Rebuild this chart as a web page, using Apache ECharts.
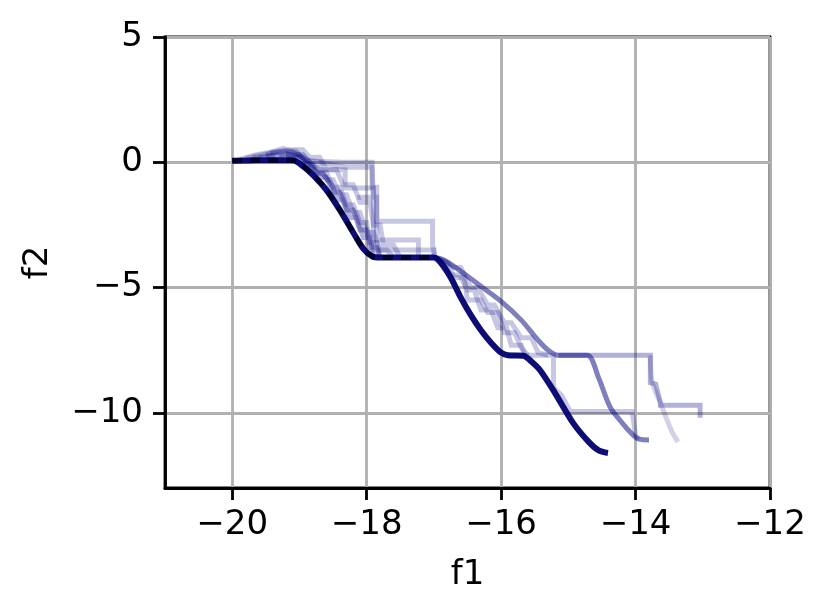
<!DOCTYPE html>
<html>
<head>
<meta charset="utf-8">
<script src="https://cdn.jsdelivr.net/npm/echarts@6/dist/echarts.min.js"></script>
<style>
  html, body { margin: 0; padding: 0; background: #fff; }
  #chart { width: 831px; height: 616px; }
</style>
</head>
<body>
<div id="chart"></div>
<script>
// tick values
const xTicks = [-20, -18, -16, -14, -12];
const yTicks = [-10, -5, 0, 5];

// main (dark) trajectory
const mainPath = [[-20.0, 0.06], [-19.6, 0.08], [-19.1, 0.08], [-18.95, -0.15], [-18.8, -0.5], [-18.6, -1.1],
  [-18.4, -1.9], [-18.2, -2.8], [-18.05, -3.45], [-17.92, -3.75], [-17.8, -3.8], [-17.0, -3.8],
  [-16.9, -4.0], [-16.75, -4.6], [-16.6, -5.4], [-16.45, -6.1], [-16.3, -6.7], [-16.15, -7.2],
  [-16.0, -7.6], [-15.9, -7.7], [-15.67, -7.72], [-15.55, -7.95], [-15.42, -8.3], [-15.2, -9.2],
  [-14.93, -10.4], [-14.7, -11.15], [-14.55, -11.5], [-14.41, -11.6]];

// upper second descent, ends on plateau then drops
const pathB = [[-17.0, -3.8], [-16.85, -3.9], [-16.6, -4.35], [-16.3, -4.95], [-16.0, -5.55], [-15.7, -6.3],
  [-15.45, -7.1], [-15.3, -7.5], [-15.15, -7.7], [-14.72, -7.7], [-14.55, -8.6], [-14.38, -9.76],
  [-14.2, -10.4], [-14.05, -10.85], [-13.95, -11.05], [-13.8, -11.08]];
const pathD = [[-15.15, -7.7], [-13.78, -7.7], [-13.78, -8.8], [-13.7, -8.85],
  [-13.63, -9.6], [-13.63, -9.7], [-13.04, -9.7], [-13.04, -10.2]];
const pathE = [[-13.78, -7.7], [-13.75, -8.8], [-13.63, -9.6], [-13.53, -10.3],
  [-13.45, -10.8], [-13.37, -11.16]];
const pathF = [[-15.9, -7.7], [-15.22, -7.7], [-15.22, -9.0], [-15.1, -9.3], [-14.97, -9.95],
  [-14.05, -9.95], [-14.0, -10.9], [-13.95, -11.05]];

// stepped light trajectories around the first descent
const step1 = [[-19.5, 0.25], [-19.0, 0.3], [-18.9, 0.05], [-18.35, 0.0], [-17.92, 0.0], [-17.92, -1.0],
  [-17.85, -1.0], [-17.85, -2.35], [-17.02, -2.35], [-17.02, -3.3], [-16.98, -3.8]];
const step2 = [[-19.7, 0.2], [-19.4, 0.2], [-19.4, 0.4], [-19.1, 0.4], [-18.9, 0.1], [-18.32, -0.2],
  [-17.92, -0.2], [-17.9, -1.4], [-18.14, -1.4], [-17.85, -1.4], [-17.85, -3.1], [-17.23, -3.1],
  [-17.23, -3.8]];
const step3 = [[-19.9, 0.1], [-19.66, 0.29], [-19.41, 0.41], [-19.24, 0.55], [-19.0, 0.3], [-18.85, 0.0],
  [-18.7, -0.3], [-18.32, -0.3], [-18.32, -1.03], [-17.9, -1.03], [-17.9, -3.5], [-17.0, -3.5], [-17.0, -3.8]];
const step4 = [[-19.6, 0.2], [-19.2, 0.35], [-19.0, 0.2], [-18.8, -0.2], [-18.7, -0.2], [-18.6, -0.7],
  [-18.5, -0.7], [-18.4, -1.3], [-18.3, -1.3], [-18.2, -2.0], [-18.1, -2.0], [-18.0, -2.8], [-17.9, -2.8],
  [-17.8, -3.5], [-17.7, -3.5], [-17.6, -3.8]];
const step5 = [[-19.8, 0.15], [-19.3, 0.45], [-19.05, 0.45], [-18.9, 0.0], [-18.75, -0.4], [-18.6, -0.4],
  [-18.5, -1.0], [-18.4, -1.0], [-18.3, -1.7], [-18.2, -1.7], [-18.1, -2.4], [-18.0, -2.4], [-17.95, -3.2],
  [-17.85, -3.2], [-17.8, -3.8]];
const step6 = [[-19.5, 0.3], [-19.15, 0.5], [-18.95, 0.5], [-18.85, 0.2], [-18.7, 0.2], [-18.6, -0.3],
  [-18.45, -0.3], [-18.35, -0.9], [-18.2, -0.9], [-18.1, -1.6], [-17.95, -1.6], [-17.9, -2.5], [-17.8, -2.5],
  [-17.75, -3.3], [-17.6, -3.3], [-17.5, -3.8]];
const step10 = [[-19.3, 0.2], [-19.0, 0.2], [-18.9, -0.1], [-18.8, -0.1], [-18.7, -0.6], [-18.6, -0.6],
  [-18.5, -1.2], [-18.4, -1.2], [-18.3, -1.9], [-18.2, -1.9], [-18.1, -2.7], [-18.0, -2.7], [-17.95, -3.4],
  [-17.85, -3.4], [-17.8, -3.8]];
const step11 = [[-19.2, 0.3], [-18.95, 0.3], [-18.85, 0.0], [-18.75, -0.45], [-18.65, -0.45], [-18.5, -1.0],
  [-18.45, -1.5], [-18.35, -1.5], [-18.25, -2.2], [-18.15, -2.2], [-18.05, -3.0], [-17.95, -3.0], [-17.9, -3.8]];

// stepped light trajectories around the second descent
const step7 = [[-17.0, -3.8], [-16.8, -4.0], [-16.7, -4.6], [-16.55, -4.6], [-16.5, -5.5], [-16.3, -5.5],
  [-16.2, -6.0], [-16.05, -6.0], [-15.95, -6.8], [-15.8, -6.8], [-15.7, -7.4], [-15.6, -7.7]];
const step8 = [[-16.95, -3.8], [-16.7, -4.2], [-16.6, -4.2], [-16.45, -5.0], [-16.35, -5.0], [-16.2, -5.7],
  [-16.1, -5.7], [-15.95, -6.4], [-15.85, -6.4], [-15.7, -7.0], [-15.55, -7.0], [-15.45, -7.6], [-15.3, -7.7]];
const step9 = [[-16.9, -3.9], [-16.75, -4.5], [-16.62, -4.5], [-16.5, -5.1], [-16.4, -5.1], [-16.3, -5.9],
  [-16.15, -5.9], [-16.05, -6.6], [-15.92, -6.6], [-15.85, -7.3], [-15.7, -7.3], [-15.65, -7.7]];

const fmt = v => (v < 0 ? '\u2212' + Math.abs(v) : String(v));

const light = 'rgba(0,0,128,0.22)';
function trace(data, color, width, smooth, dash) {
  return {
    type: 'line',
    data: data,
    showSymbol: false,
    silent: true,
    smooth: smooth || false,
    lineStyle: { color: color, width: width, join: 'miter', type: dash || 'solid' }
  };
}

const chart = echarts.init(document.getElementById('chart'));
chart.setOption({
  backgroundColor: '#fff',
  animation: false,
  grid: {
    left: 165, right: 61, top: 37, bottom: 128,
    show: true, borderColor: '#000', borderWidth: 2.8, backgroundColor: 'transparent'
  },
  xAxis: {
    type: 'value', min: -21, max: -12,
    name: 'f1', nameLocation: 'middle', nameGap: 70,
    nameTextStyle: { fontFamily: 'DejaVu Sans', fontSize: 34, color: '#000' },
    axisLine: { show: true, onZero: false, lineStyle: { color: '#000', width: 2.8 } },
    axisTick: { show: true, inside: false, length: 12, customValues: xTicks, lineStyle: { color: '#000', width: 2.8 } },
    axisLabel: { customValues: xTicks, margin: 20, fontFamily: 'DejaVu Sans', fontSize: 34, color: '#000', formatter: fmt },
    splitLine: { show: true, customValues: xTicks, lineStyle: { color: '#b0b0b0', width: 2.8 } }
  },
  yAxis: {
    type: 'value', min: -13, max: 5,
    name: 'f2', nameLocation: 'middle', nameGap: 110,
    nameTextStyle: { fontFamily: 'DejaVu Sans', fontSize: 34, color: '#000' },
    axisLine: { show: true, onZero: false, lineStyle: { color: '#000', width: 2.8 } },
    axisTick: { show: true, inside: false, length: 12, customValues: yTicks, lineStyle: { color: '#000', width: 2.8 } },
    axisLabel: { customValues: yTicks, margin: 22, fontFamily: 'DejaVu Sans', fontSize: 34, color: '#000', formatter: fmt },
    splitLine: { show: true, customValues: yTicks, lineStyle: { color: '#b0b0b0', width: 2.8 } }
  },
  series: [
    trace(step1, light, 5),
    trace(step2, light, 5),
    trace(step3, light, 5),
    trace(step4, light, 5),
    trace(step5, light, 5),
    trace(step6, light, 5),
    trace(step10, 'rgba(0,0,128,0.3)', 5),
    trace(step11, 'rgba(0,0,128,0.3)', 5),
    trace(step7, light, 5),
    trace(step8, light, 5),
    trace(step9, light, 5),
    trace(pathE, 'rgba(0,0,128,0.18)', 5, 0.3),
    trace(pathD, 'rgba(0,0,128,0.3)', 5),
    trace(pathF, light, 5),
    trace(pathB, 'rgba(0,0,128,0.5)', 5, 0.3),
    trace(mainPath, 'rgba(0,0,110,0.95)', 6, 0.3),
    trace(mainPath.slice(0, 12), '#00002e', 5, 0.3, [10, 8])
  ]
});
</script>
</body>
</html>
